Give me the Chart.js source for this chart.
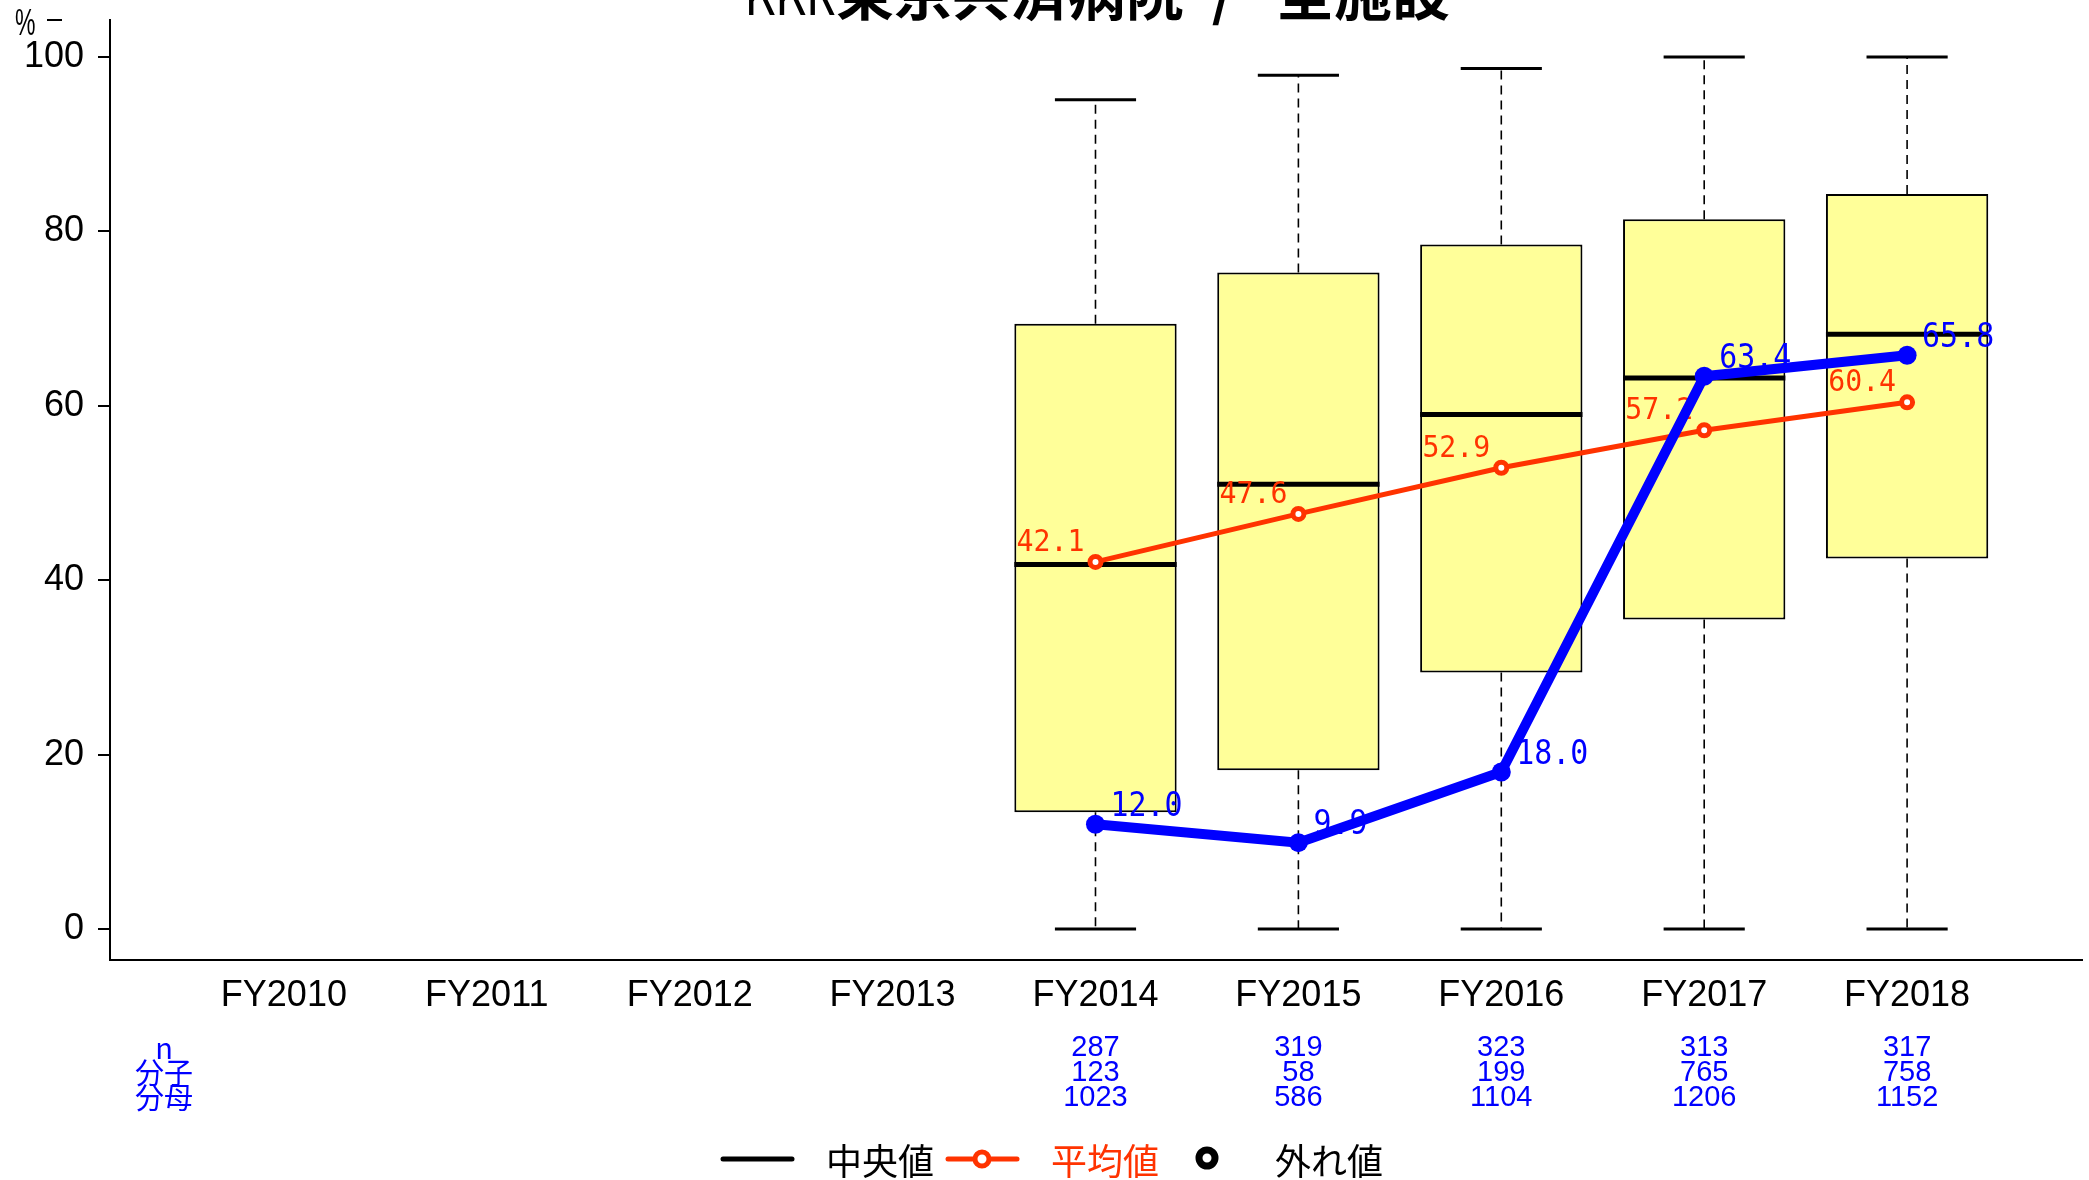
<!DOCTYPE html>
<html><head><meta charset="utf-8">
<script src="https://cdn.jsdelivr.net/npm/chart.js@4.4.0/dist/chart.umd.min.js"></script>
<style>html,body{margin:0;padding:0;background:#fff;overflow:hidden}#wrap{width:2089px;height:1180px;position:relative}</style>
</head><body><div id="wrap"><canvas id="c" width="2089" height="1180"></canvas></div>
<script>
// ---- data ----
const titleParts = ['KKR', '東京共済病院', '/', '全施設'];
const categories = ['FY2010','FY2011','FY2012','FY2013','FY2014','FY2015','FY2016','FY2017','FY2018'];
const yTicks = [0, 20, 40, 60, 80, 100];
const whiskerLow  = [null, null, null, null, 0, 0, 0, 0, 0];
const q1          = [null, null, null, null, 13.4, 18.2, 29.4, 35.5, 42.5];
const median      = [null, null, null, null, 41.8, 51.0, 59.0, 63.2, 68.2];
const q3          = [null, null, null, null, 69.4, 75.3, 78.5, 81.4, 84.3];
const whiskerHigh = [null, null, null, null, 95.1, 97.9, 98.7, 100, 100];
const meanValues  = [null, null, null, null, 42.1, 47.6, 52.9, 57.2, 60.4];
const hospValues  = [null, null, null, null, 12.0, 9.9, 18.0, 63.4, 65.8];
const nValues     = [null, null, null, null, 287, 319, 323, 313, 317];
const numerators  = [null, null, null, null, 123, 58, 199, 765, 758];
const denominators= [null, null, null, null, 1023, 586, 1104, 1206, 1152];
const rowLabels = ['n', '分子', '分母'];
const legendLabels = ['中央値', '平均値', '外れ値'];

const RED = '#FF3300', BLUE = '#0000FF', BOX = '#FFFF99';
const SANS = '"Liberation Sans", Arial, sans-serif';
const MONO = '"DejaVu Sans Mono", "Liberation Mono", monospace';
const CJK = '"Noto Sans CJK JP", "Noto Sans", sans-serif';

const idx = categories.map((c, i) => i);
const boxData = idx.filter(i => q1[i] != null).map(i => ({x: i, y: [q1[i], q3[i]]}));
const meanData = idx.filter(i => meanValues[i] != null).map(i => ({x: i, y: meanValues[i]}));
const hospData = idx.filter(i => hospValues[i] != null).map(i => ({x: i, y: hospValues[i]}));

function squeezedText(ctx, text, x, y, sx, align) {
  ctx.save();
  ctx.translate(x, y);
  ctx.scale(sx, 1);
  ctx.textAlign = align;
  ctx.fillText(text, 0, 0);
  ctx.restore();
}

const boxExtras = {
  id: 'boxExtras',
  afterDatasetDraw(chart, args) {
    const ctx = chart.ctx, xs = chart.scales.x, ys = chart.scales.y;
    if (args.index === 0) {
      const step = xs.getPixelForValue(1) - xs.getPixelForValue(0);
      ctx.save();
      idx.forEach(i => {
        if (q1[i] == null) return;
        const cx = xs.getPixelForValue(i);
        ctx.strokeStyle = '#000'; ctx.lineWidth = 1.6; ctx.setLineDash([9, 6]);
        ctx.beginPath();
        ctx.moveTo(cx, ys.getPixelForValue(q3[i])); ctx.lineTo(cx, ys.getPixelForValue(whiskerHigh[i]));
        ctx.moveTo(cx, ys.getPixelForValue(q1[i])); ctx.lineTo(cx, ys.getPixelForValue(whiskerLow[i]));
        ctx.stroke();
        ctx.setLineDash([]);
        ctx.lineWidth = 3;
        const hw = step * 0.2;
        ctx.beginPath();
        let y = ys.getPixelForValue(whiskerHigh[i]);
        ctx.moveTo(cx - hw, y); ctx.lineTo(cx + hw, y);
        y = ys.getPixelForValue(whiskerLow[i]);
        ctx.moveTo(cx - hw, y); ctx.lineTo(cx + hw, y);
        ctx.stroke();
        ctx.lineWidth = 5;
        const bw = step * 0.4;
        y = ys.getPixelForValue(median[i]);
        ctx.beginPath(); ctx.moveTo(cx - bw, y); ctx.lineTo(cx + bw, y); ctx.stroke();
      });
      ctx.restore();
    }
    if (args.index === 1) {
      ctx.save();
      ctx.font = '30px ' + MONO; ctx.fillStyle = RED; ctx.textBaseline = 'middle';
      idx.forEach(i => {
        if (meanValues[i] == null) return;
        squeezedText(ctx, meanValues[i].toFixed(1), xs.getPixelForValue(i) - 11,
                     ys.getPixelForValue(meanValues[i]) - 19, 0.94, 'right');
      });
      ctx.restore();
    }
    if (args.index === 2) {
      ctx.save();
      ctx.font = '34px ' + MONO; ctx.fillStyle = BLUE; ctx.textBaseline = 'middle';
      idx.forEach(i => {
        if (hospValues[i] == null) return;
        squeezedText(ctx, hospValues[i].toFixed(1), xs.getPixelForValue(i) + 15,
                     ys.getPixelForValue(hospValues[i]) - 17, 0.88, 'left');
      });
      ctx.restore();
    }
  },
  afterDraw(chart) {
    const ctx = chart.ctx, xs = chart.scales.x;
    ctx.save();
    // title (clipped at top as in the reference)
    ctx.fillStyle = '#000'; ctx.textBaseline = 'alphabetic';
    ctx.font = 'bold 58px ' + CJK;
    ctx.textAlign = 'right'; ctx.fillText(titleParts[1], 1184, 15);
    const w1 = ctx.measureText(titleParts[1]).width;
    ctx.textAlign = 'center'; ctx.fillText(titleParts[2], 1223, 15);
    ctx.textAlign = 'left'; ctx.fillText(titleParts[3], 1276, 15);
    ctx.font = '58px ' + CJK;
    squeezedText(ctx, titleParts[0], 1184 - w1, 15, 0.82, 'right');
    // unit
    ctx.font = '36px ' + SANS; ctx.textBaseline = 'middle';
    squeezedText(ctx, '%', 15, 25, 0.64, 'left');
    ctx.strokeStyle = '#000'; ctx.lineWidth = 2;
    ctx.beginPath(); ctx.moveTo(47, 20); ctx.lineTo(62, 20); ctx.stroke();
    // count rows
    const rowsY = [1048, 1073, 1098];
    const rows = [nValues, numerators, denominators];
    ctx.fillStyle = BLUE; ctx.textAlign = 'center';
    ctx.font = '29px ' + CJK;
    rowLabels.forEach((l, r) => ctx.fillText(l, 164, rowsY[r]));
    ctx.font = '29px ' + SANS;
    rows.forEach((arr, r) => idx.forEach(i => {
      if (arr[i] == null) return;
      ctx.fillText(String(arr[i]), xs.getPixelForValue(i), rowsY[r]);
    }));
    // legend
    const ly = 1159;
    ctx.lineCap = 'round';
    ctx.strokeStyle = '#000'; ctx.lineWidth = 5;
    ctx.beginPath(); ctx.moveTo(723, ly); ctx.lineTo(792, ly); ctx.stroke();
    ctx.strokeStyle = RED;
    ctx.beginPath(); ctx.moveTo(948, ly); ctx.lineTo(1017, ly); ctx.stroke();
    ctx.lineCap = 'butt';
    ctx.fillStyle = '#fff'; ctx.lineWidth = 5;
    ctx.beginPath(); ctx.arc(982, ly, 7, 0, Math.PI * 2); ctx.fill(); ctx.stroke();
    ctx.strokeStyle = '#000'; ctx.lineWidth = 7;
    ctx.beginPath(); ctx.arc(1207, ly - 1, 8, 0, Math.PI * 2); ctx.stroke();
    ctx.font = '36px ' + CJK; ctx.textAlign = 'left'; ctx.textBaseline = 'middle';
    ctx.fillStyle = '#000'; ctx.fillText(legendLabels[0], 826, ly + 2);
    ctx.fillStyle = RED; ctx.fillText(legendLabels[1], 1051, ly + 2);
    ctx.fillStyle = '#000'; ctx.fillText(legendLabels[2], 1275, ly + 2);
    ctx.restore();
  }
};

new Chart(document.getElementById('c'), {
  type: 'bar',
  data: {
    datasets: [
      { type: 'bar', data: boxData, backgroundColor: BOX, borderColor: '#000', borderWidth: 2,
        borderSkipped: false, barPercentage: 0.8, categoryPercentage: 1.0, order: 2 },
      { type: 'line', data: meanData, borderColor: RED, borderWidth: 5, pointRadius: 5.5,
        pointBorderWidth: 5, pointBackgroundColor: '#fff', pointBorderColor: RED, order: 1 },
      { type: 'line', data: hospData, borderColor: BLUE, borderWidth: 10, pointRadius: 9.5,
        pointBorderWidth: 0, pointBackgroundColor: BLUE, pointBorderColor: BLUE, order: 0 }
    ]
  },
  options: {
    responsive: false, animation: false, devicePixelRatio: 1,
    layout: { autoPadding: false, padding: { top: 20, right: 7, left: 0, bottom: 0 } },
    plugins: { legend: { display: false }, tooltip: { enabled: false }, title: { display: false } },
    scales: {
      x: {
        type: 'linear', min: -0.857, max: 8.862, offset: false,
        afterBuildTicks: s => { s.ticks = categories.map((c, i) => ({ value: i })); },
        afterFit: s => { s.height = 220; s.paddingLeft = 0; s.paddingRight = 0; },
        ticks: { callback: v => categories[v], font: { size: 36, family: SANS }, color: '#000',
                 padding: 14, autoSkip: false, maxRotation: 0 },
        grid: { display: false, drawTicks: false },
        border: { display: true, color: '#000', width: 2 }
      },
      y: {
        type: 'linear', min: -3.56, max: 104.25,
        afterBuildTicks: s => { s.ticks = yTicks.map(v => ({ value: v })); },
        afterFit: s => { s.width = 110; s.paddingTop = 0; s.paddingBottom = 0; },
        ticks: { font: { size: 36, family: SANS }, color: '#000', padding: 14 },
        grid: { drawOnChartArea: false, drawTicks: true, tickLength: 12, color: '#000', lineWidth: 2 },
        border: { display: true, color: '#000', width: 2 }
      }
    }
  },
  plugins: [boxExtras]
});
</script></body></html>
